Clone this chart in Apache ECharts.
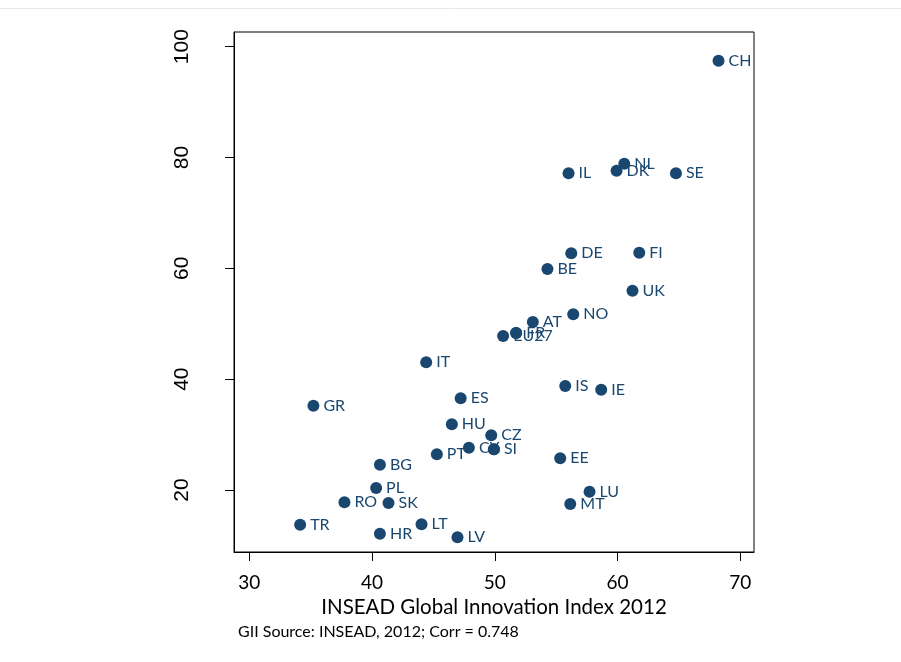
<!DOCTYPE html>
<html><head><meta charset="utf-8">
<script src="https://cdn.jsdelivr.net/npm/echarts@6/dist/echarts.min.js"></script>
<style>html,body{margin:0;padding:0;background:#fff}#c{width:901px;height:662px}</style>
</head><body><div id="c"></div>
<script>
// Country codes
const countries = ['CH','NL','DK','IL','SE','DE','FI','BE','UK','NO','AT','EU27','FR','IT','IS','IE','ES','GR','HU','CZ','CY','SI','PT','EE','BG','PL','LU','RO','SK','MT','TR','LT','HR','LV'];
// INSEAD Global Innovation Index 2012 (x)
const giiScores = [68.23,60.55,59.92,56.01,64.76,56.23,61.77,54.29,61.22,56.39,53.10,50.68,51.74,44.41,55.74,58.67,47.22,35.22,46.50,49.71,47.89,49.93,45.28,55.33,40.64,40.33,57.72,37.75,41.34,56.15,34.14,44.03,40.64,46.96];
// Vertical-axis values (y)
const yValues = [97.48,78.89,77.62,77.16,77.16,62.72,62.83,59.88,55.97,51.71,50.32,47.79,48.33,43.05,38.77,38.10,36.57,35.21,31.86,29.89,27.63,27.35,26.44,25.72,24.57,20.36,19.69,17.78,17.65,17.47,13.74,13.81,12.11,11.46];
const xTicks = [30,40,50,60,70];
const yTicks = [20,40,60,80,100];
const overlayCountries = ['SI','FR'];
const xTitle = 'INSEAD Global Innovation Index 2012';
const footnote = 'GII Source: INSEAD, 2012; Corr = 0.748';

const navy = '#1a476f';
const pts = countries.map((c,i)=>[giiScores[i], yValues[i], c]);
const overlay = pts.filter(p=>overlayCountries.includes(p[2]));

const chart = echarts.init(document.getElementById('c'), null, {renderer:'canvas'});
chart.setOption({
  animation:false,
  backgroundColor:'#fff',
  grid:{left:234,right:147,top:32,bottom:110,show:true,borderColor:'#000',borderWidth:1,backgroundColor:'transparent'},
  xAxis:{
    type:'value',min:28.75,max:71.12,
    axisLine:{show:true,lineStyle:{color:'#000',width:1}},
    axisTick:{show:true,length:9,lineStyle:{color:'#000'},customValues:xTicks},
    axisLabel:{show:true,customValues:xTicks,margin:21,color:'#000',fontFamily:'Lato',fontSize:19},
    splitLine:{show:false},
    name:xTitle,nameLocation:'middle',nameGap:33,
    nameTextStyle:{color:'#000',fontFamily:'Lato',fontSize:20.5}
  },
  yAxis:{
    type:'value',min:8.81,max:102.65,
    axisLine:{show:true,lineStyle:{color:'#000',width:1}},
    axisTick:{show:true,length:9,lineStyle:{color:'#000'},customValues:yTicks},
    axisLabel:{show:true,customValues:yTicks,rotate:90,margin:41,color:'#000',fontFamily:'Liberation Sans',fontSize:21},
    splitLine:{show:false}
  },
  series:[
    {type:'scatter',data:pts,symbol:'circle',symbolSize:12,z:2,
     itemStyle:{color:navy,opacity:1},
     label:{show:true,position:'right',distance:4,color:navy,fontFamily:'Lato',fontSize:16,
            formatter:p=>p.value[2]}},
    {type:'scatter',data:overlay,symbol:'circle',symbolSize:12,z:3,silent:true,
     itemStyle:{color:navy,opacity:1},label:{show:false}}
  ],
  graphic:[
    {type:'line',shape:{x1:0,y1:8.5,x2:901,y2:8.5},style:{stroke:'#e6eaed',lineWidth:1},silent:true},
    {type:'text',left:238,top:624,style:{text:footnote,fill:'#000',font:'16px Lato'},silent:true}
  ]
});
</script></body></html>
